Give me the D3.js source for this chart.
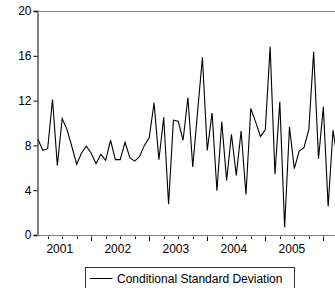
<!DOCTYPE html>
<html>
<head>
<meta charset="utf-8">
<script src="https://cdn.jsdelivr.net/npm/d3@7"></script>
<style>
  body { margin: 0; background: #fff; }
  text { font-family: "Liberation Sans", Arial, sans-serif; font-size: 12px; fill: #000; }
</style>
</head>
<body>
<div id="display"></div>
<script>
// monthly observations, first one is 2001M02 (index 1 = Feb 2001, index 12 = Jan 2002)
var firstIndex = 1;
var condSD = [
  8.52, 7.56, 7.71, 12.1, 6.22, 10.4, 9.41, 7.9, 6.31, 7.32, 7.92,
  7.3, 6.37, 7.2, 6.67, 8.46, 6.73, 6.73, 8.28, 6.9, 6.6, 7.02, 8.0,
  8.7, 11.8, 6.73, 10.5, 2.75, 10.25, 10.15, 8.46, 12.28, 6.07, 11.0, 15.86,
  7.56, 10.9, 3.95, 10.1, 4.88, 9.0, 5.32, 9.29, 3.62, 11.3, 10.1, 8.8,
  9.4, 16.8, 5.43, 11.9, 0.7, 9.65, 5.92, 7.5, 7.8, 9.41, 16.36, 6.82,
  11.44, 2.55, 9.35, 6.5
];
var years = ["2001", "2002", "2003", "2004", "2005"];
var yTicks = [0, 4, 8, 12, 16, 20];
var seriesName = "Conditional Standard Deviation";

var W = 335, H = 288;
var plotLeft = 38, plotTop = 11, plotBottom = 235;

var svg = d3.select("#display").append("svg")
    .attr("width", W)
    .attr("height", H);

var x = d3.scaleLinear()
    .domain([1, 62])
    .range([plotLeft, 333]);

var y = d3.scaleLinear()
    .domain([0, 20])
    .range([plotBottom, plotTop]);

var data = condSD.map(function(v, i) { return {i: firstIndex + i, v: v}; });

// frame top
svg.append("line")
    .attr("x1", plotLeft).attr("x2", W + 5)
    .attr("y1", plotTop + 0.5).attr("y2", plotTop + 0.5)
    .attr("stroke", "#808080").attr("stroke-width", 1);

// y axis
var yAxis = svg.append("g")
    .attr("transform", "translate(" + (plotLeft - 0.5) + ",0)")
    .call(d3.axisLeft(y).tickValues(yTicks).tickSize(4).tickPadding(2));
yAxis.select(".domain").attr("stroke", "#808080").attr("stroke-width", 2);
yAxis.selectAll(".tick line").attr("stroke", "#000");
yAxis.selectAll("text").attr("font-size", 12).attr("font-family", null);

// x axis, month index ticks
var allTicks = d3.range(0, 72, 3);
var xAxis = svg.append("g")
    .attr("transform", "translate(0," + (plotBottom + 0.5) + ")");
xAxis.append("line")
    .attr("x1", plotLeft - 1).attr("x2", W + 5)
    .attr("stroke", "#808080").attr("stroke-width", 1);
xAxis.selectAll(".tk")
  .data(allTicks.filter(function(t) { return x(t) > plotLeft + 2 && x(t) < W; }))
  .enter().append("line")
    .attr("class", "tk")
    .attr("x1", function(t) { return Math.round(x(t)) + 0.5; })
    .attr("x2", function(t) { return Math.round(x(t)) + 0.5; })
    .attr("y1", 1)
    .attr("y2", function(t) { return t % 12 == 0 ? 5.5 : 3.5; })
    .attr("stroke", "#000");
xAxis.selectAll(".yr")
  .data(years)
  .enter().append("text")
    .attr("class", "yr")
    .attr("x", function(d, k) { return x(k * 12 + 5.5); })
    .attr("y", 17)
    .attr("text-anchor", "middle")
    .text(function(d) { return d; });

// series
var line = d3.line()
    .x(function(d) { return x(d.i); })
    .y(function(d) { return y(d.v); });

svg.append("path")
    .datum(data)
    .attr("fill", "none")
    .attr("stroke", "#000")
    .attr("stroke-width", 1.1)
    .attr("d", line);

// legend
var legend = svg.append("g").attr("transform", "translate(85.5,267.5)");
legend.append("rect")
    .attr("width", 209).attr("height", 21)
    .attr("fill", "#fff").attr("stroke", "#333");
legend.append("line")
    .attr("x1", 4.5).attr("x2", 27)
    .attr("y1", 11).attr("y2", 11)
    .attr("stroke", "#000");
legend.append("text")
    .attr("x", 31.5).attr("y", 15.2)
    .attr("font-size", 12.3)
    .text(seriesName);
</script>
</body>
</html>
